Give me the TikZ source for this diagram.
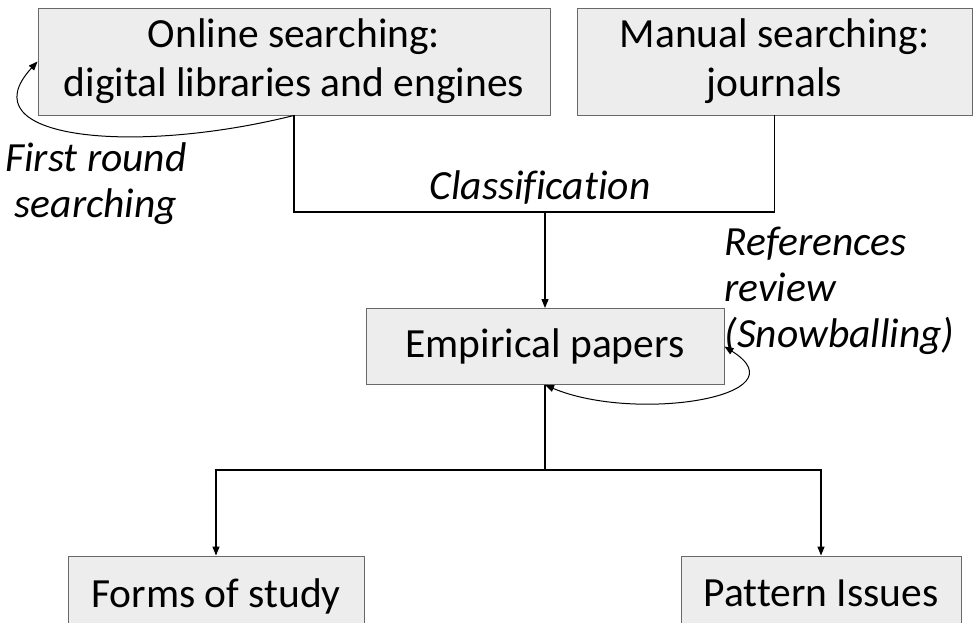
\documentclass[tikz,border=0pt]{standalone}
\usepackage{fontspec}
\setmainfont[Ligatures=NoCommon]{Carlito}
\usepackage{tikz}
\usetikzlibrary{positioning, calc, arrows.meta}
\definecolor{boxgray}{RGB}{237,237,237}
\definecolor{edgegray}{RGB}{105,105,105}
\tikzset{
	stagebox/.style={draw=edgegray, fill=boxgray, line width=0.9pt, inner sep=0pt, align=center, font=\fontsize{41.5}{49}\selectfont},
	notelabel/.style={inner sep=0pt, font=\fontsize{41.5}{46}\selectfont\itshape},
}

\begin{document}
\begin{tikzpicture}[x=1pt, y=-1pt, >={Triangle[length=9pt, width=7pt]}, line width=1.2pt]
	\useasboundingbox (0,0) rectangle (974,622);
	\clip (0,0) rectangle (974,622);
	%% boxes
	\node[stagebox, minimum width=512, minimum height=107] (online) at (294,61.5) {Online searching:\\ digital libraries and engines};
	\node[stagebox, minimum width=395, minimum height=107] (manual) at (774.5,61.5) {Manual searching:\\ journals};
	\node[stagebox, minimum width=358, minimum height=76] (empirical) at (545,346.5) {Empirical papers};
	\node[stagebox, minimum width=296, minimum height=76, text depth=0.25em] (forms) at (216,594) {Forms of study};
	\node[stagebox, minimum width=280, minimum height=76, text depth=0.25em] (pattern) at (821,594) {Pattern Issues};
	
	%% classification bracket
	\coordinate (merge) at (545,212);
	\draw (online.south) |- (merge) -| (manual.south);
	\draw [->] (merge) -- (empirical.north);
	\node[notelabel, anchor=base] (classlabel) at (540,199) {Classification};
	
	%% split to the two results
	\coordinate (split) at (545,470);
	\draw (empirical.south) -- (split);
	\draw [->] (split) -| (forms.north);
	\draw [->] (split) -| (pattern.north);
	
	%% loops
	\draw [->, line width=1pt] (online.south) .. controls +(-160,40) and +(-72,78) .. (online.west);
	\node[notelabel, align=center] (firstlabel) at (96,184) {First round\\ searching};
	\draw [<->, line width=1pt] (empirical.south) .. controls +(90,38) and +(80,50) .. (empirical.east);
	\node[notelabel, align=left, anchor=west] (snowlabel) at (724,291) {References\\ review\\ (Snowballing)};
\end{tikzpicture}
\end{document}
